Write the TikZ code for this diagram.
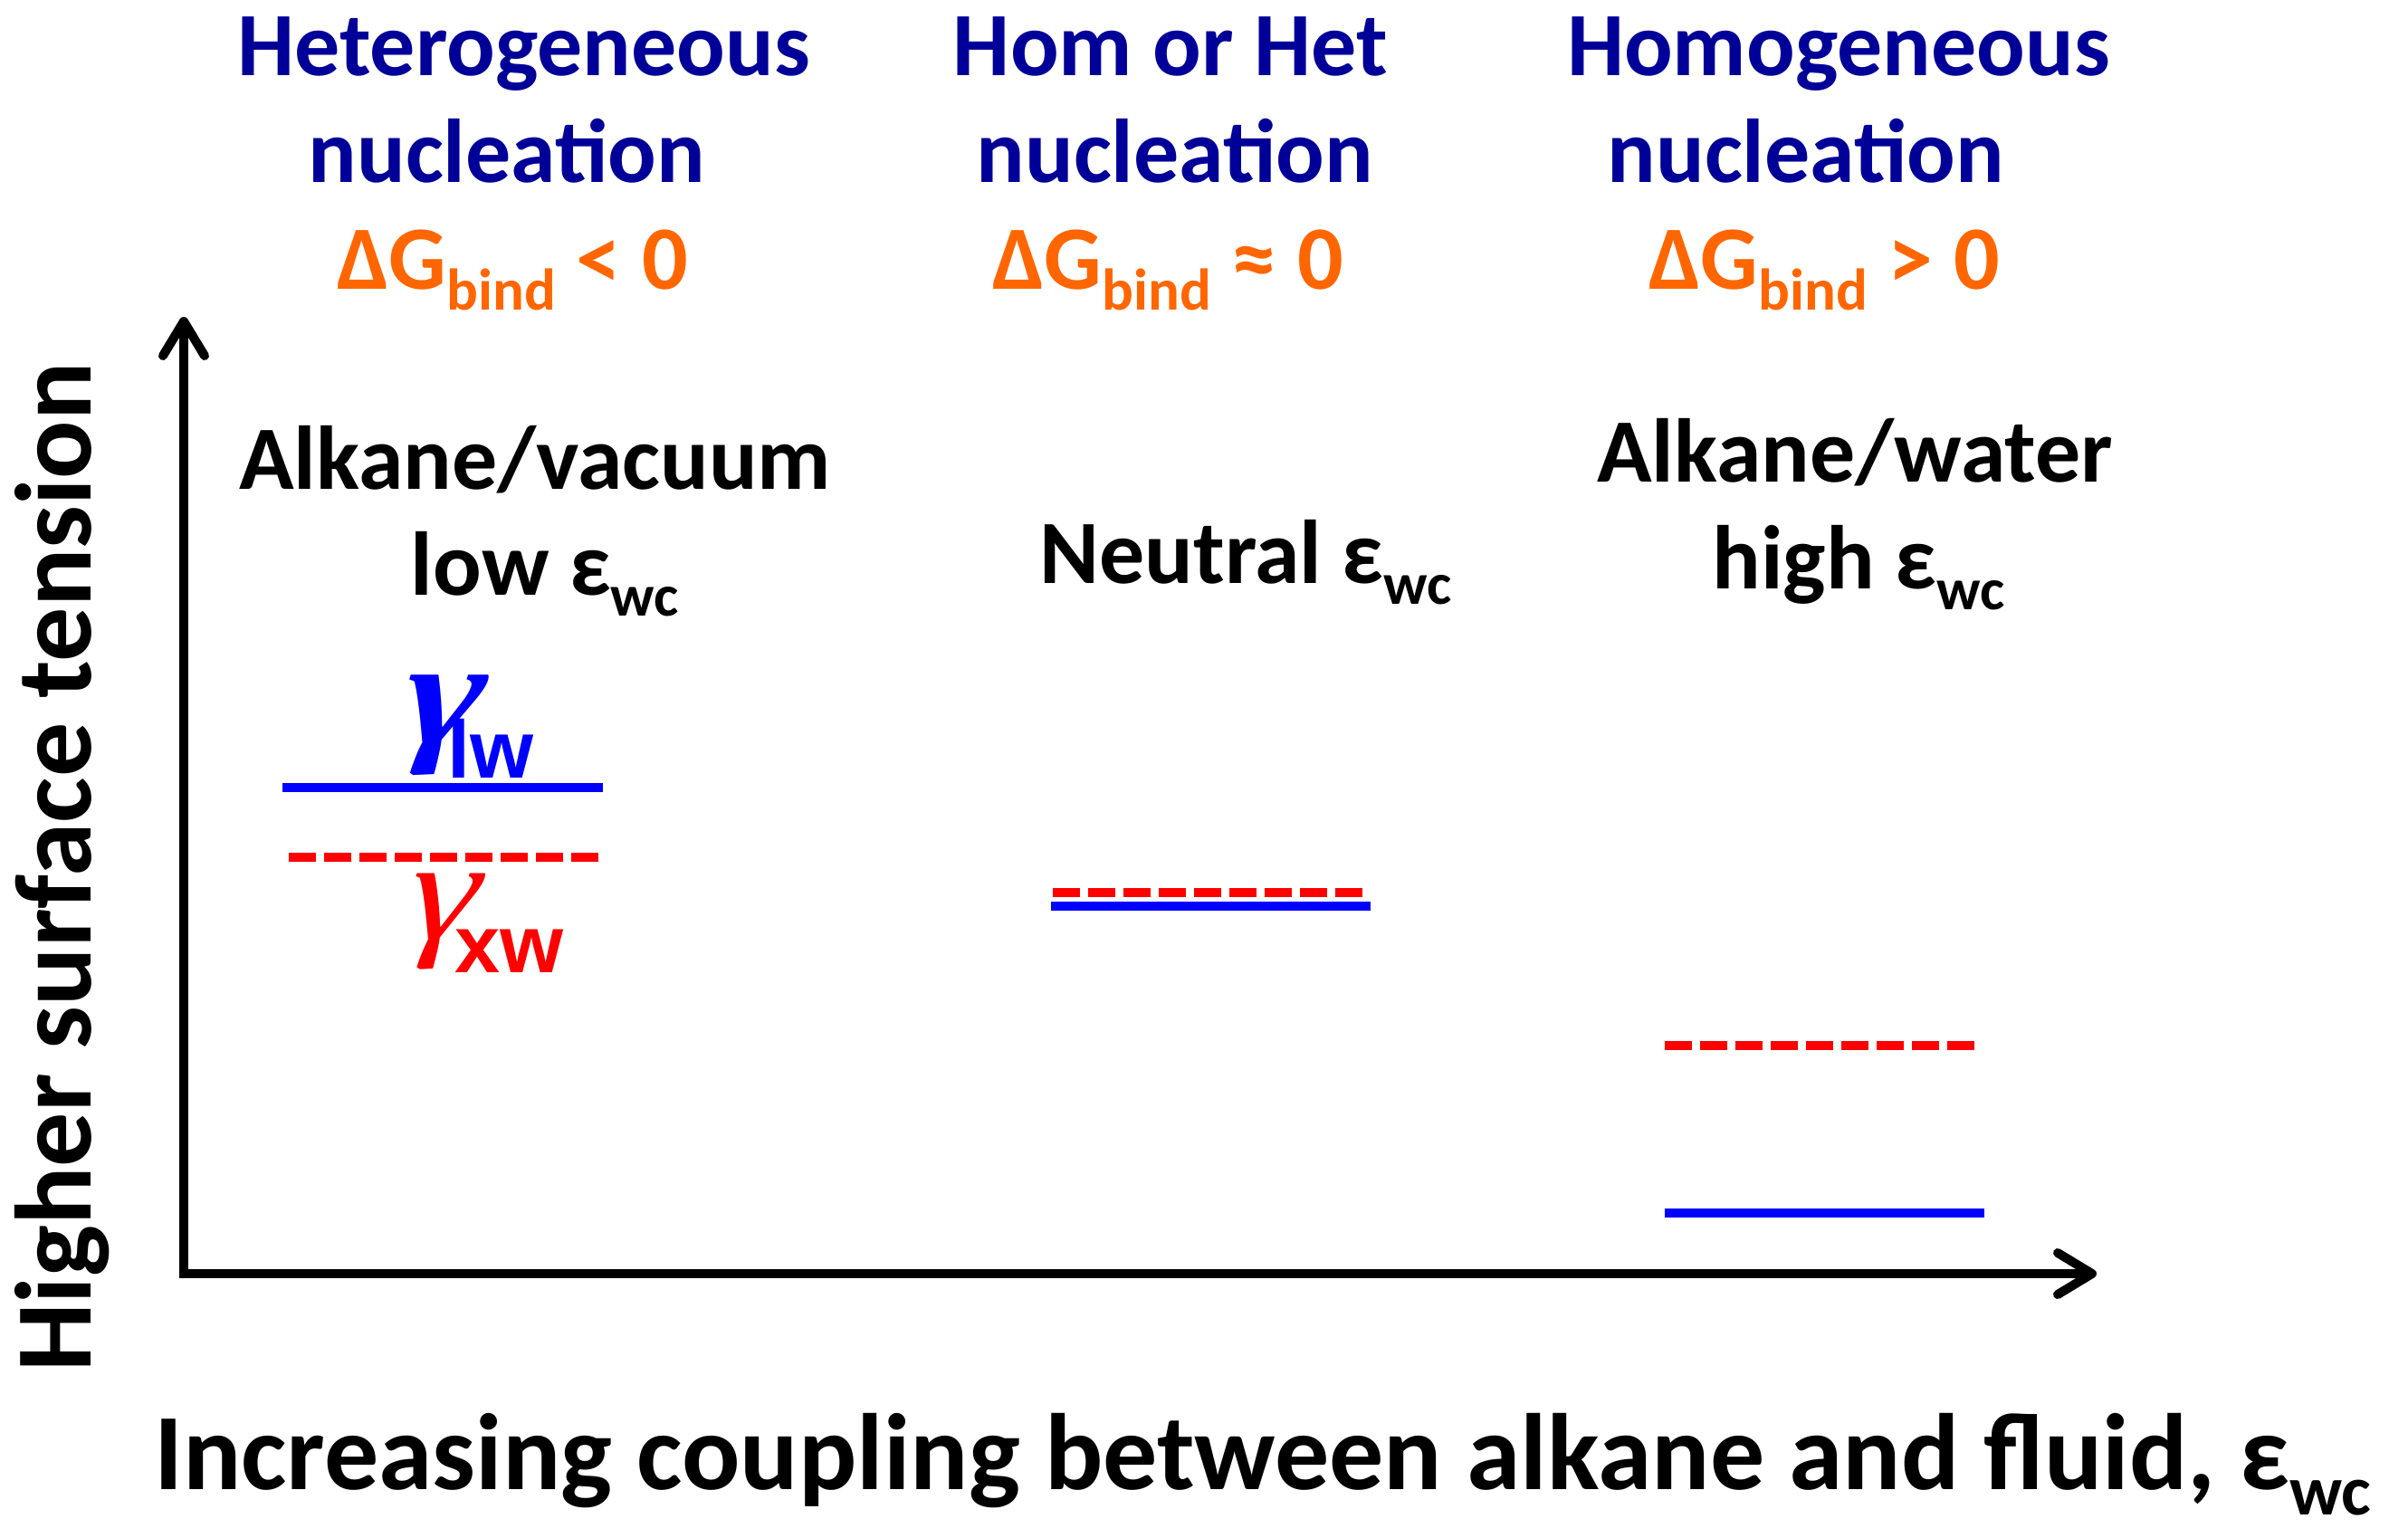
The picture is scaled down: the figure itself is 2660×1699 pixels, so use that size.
\documentclass[tikz,border=0pt]{standalone}
\usepackage{fontspec}
\setmainfont{Carlito}
\newfontfamily\afont{Liberation Sans}
\newfontfamily\gamfont{Liberation Serif}[FakeSlant=0.3,FakeStretch=1.15]
\usetikzlibrary{arrows.meta}
\definecolor{hblue}{RGB}{0,0,153}
\definecolor{horange}{RGB}{255,102,0}
\definecolor{lblue}{RGB}{0,0,255}
\definecolor{lred}{RGB}{255,0,0}
\newcommand{\fs}[1]{\fontsize{#1}{#1}\selectfont}
\newcommand{\dGbind}[1]{ΔG\raisebox{-23pt}{\fs{65}bind} #1 0}
\newcommand{\ewcsub}{ε\raisebox{-23pt}{\fs{65}wc}}
\begin{document}
\begin{tikzpicture}[x=1pt,y=-1pt,
  txt/.style={inner sep=0pt, anchor=base, font=\fs{100}\bfseries},
  head/.style={txt, text=hblue},
  dg/.style={txt, text=horange},
  axisline/.style={line width=10pt, {Straight Barb[length=38pt,width=46pt,round]}-{Straight Barb[length=38pt,width=46pt,round]}},
  solidlvl/.style={lblue, line width=10pt},
  dashlvl/.style={lred, line width=10pt, dash pattern=on 30pt off 9pt},
  gam/.style={inner sep=0pt, anchor=base west}]
\fill[white] (0,0) rectangle (2660,1699);
\useasboundingbox (0,0) rectangle (2660,1699);

% headers
\node[head] (h1a) at (579,84) {Heterogeneous};
\node[head] (h1b) at (560,201) {nucleation};
\node[dg]   (h1c) at (566,319) {\dGbind{<}};
\node[head] (h2a) at (1293,84) {Hom or Het};
\node[head] (h2b) at (1298,201) {nucleation};
\node[dg]   (h2c) at (1290,319) {\dGbind{≈}};
\node[head] (h3a) at (2031,84) {Homogeneous};
\node[head] (h3b) at (1995,201) {nucleation};
\node[dg]   (h3c) at (2015,319) {\dGbind{>}};

% middle labels
\node[txt] (m1a) at (591,540) {Alkane/vacuum};
\node[txt] (m1b) at (602,657) {low \ewcsub};
\node[txt] (m2a) at (1376,644) {Neutral \ewcsub};
\node[txt] (m3a) at (2049,532) {Alkane/water};
\node[txt] (m3b) at (2053,650) {high \ewcsub};

% axes
\coordinate (O) at (203,1407);
\coordinate (ytip) at (203,350);
\coordinate (xtip) at (2316,1407);
\draw[axisline] (ytip) -- (O) -- (xtip);
\node[txt, font=\fs{120}\bfseries, rotate=90] (ylab) at (100,958) {Higher surface tension};
\node[txt, font=\fs{120}\bfseries, anchor=base west] (xlab) at (170,1645) {Increasing coupling between alkane and fluid, ε\raisebox{-28pt}{\fs{78}wc}};

% levels
\coordinate (l1a) at (312,870);  \coordinate (l1b) at (666,870);
\coordinate (l1c) at (319,947);  \coordinate (l1d) at (662,947);
\coordinate (l2a) at (1161,1001); \coordinate (l2b) at (1514,1001);
\coordinate (l2c) at (1163,986);  \coordinate (l2d) at (1507,986);
\coordinate (l3a) at (1839,1340); \coordinate (l3b) at (2192,1340);
\coordinate (l3c) at (1839,1155); \coordinate (l3d) at (2182,1155);
\draw[solidlvl] (l1a) -- (l1b);
\draw[dashlvl] (l1c) -- (l1d);
\draw[dashlvl] (l2c) -- (l2d);
\draw[solidlvl] (l2a) -- (l2b);
\draw[dashlvl] (l3c) -- (l3d);
\draw[solidlvl] (l3a) -- (l3b);

% gamma labels
\node[gam, text=lblue] (glw) at (432,821) {\makebox[0pt][l]{\gamfont\bfseries\fs{165}γ}\hspace{62pt}\raisebox{-38pt}{\afont\bfseries\fs{90}lw}};
\node[gam, text=lred] (gxw) at (439,1037) {\makebox[0pt][l]{\gamfont\fs{158}γ}\hspace{63pt}\raisebox{-37pt}{\afont\bfseries\fs{90}xw}};
\end{tikzpicture}
\end{document}
